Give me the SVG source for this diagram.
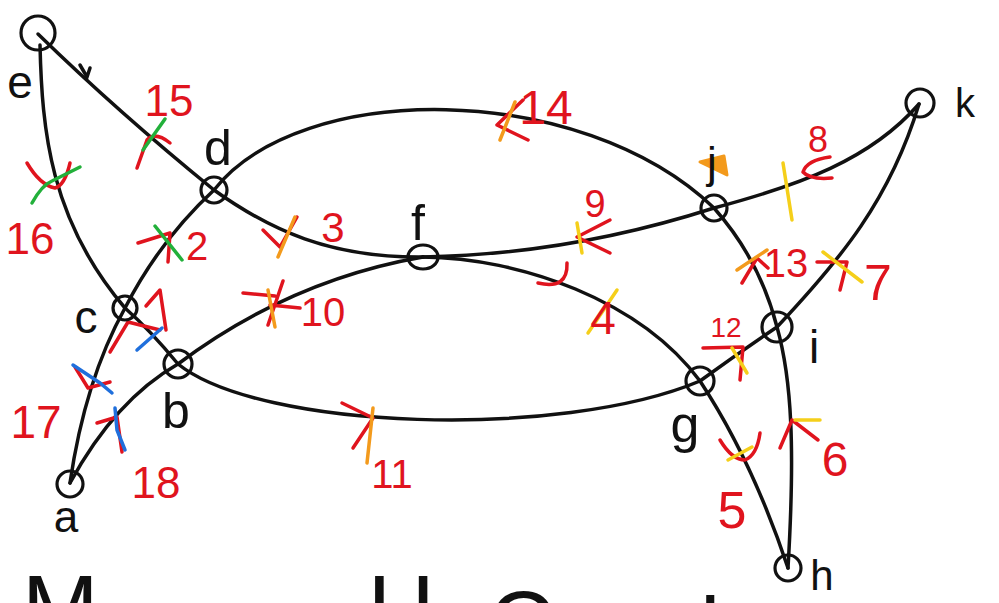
<svg xmlns="http://www.w3.org/2000/svg" width="999" height="603" viewBox="0 0 999 603">
<style>
.edge{fill:none;stroke:#111;stroke-width:3.5;stroke-linecap:round}
.node circle{fill:none;stroke:#111;stroke-width:3.2}
.nl{font-family:"Liberation Sans","DejaVu Sans",sans-serif;fill:#111;text-anchor:middle}
.num{font-family:"Liberation Sans","DejaVu Sans",sans-serif;fill:#e0141e;text-anchor:middle}
.r{fill:none;stroke:#e0141e;stroke-width:3.5;stroke-linecap:round;stroke-linejoin:round}
.gr{fill:none;stroke:#22b03a;stroke-width:3.5;stroke-linecap:round}
.bl{fill:none;stroke:#1f6fdc;stroke-width:3.5;stroke-linecap:round}
.or{fill:none;stroke:#f39a1c;stroke-width:3.5;stroke-linecap:round}
.ye{fill:none;stroke:#f5cf1a;stroke-width:3.5;stroke-linecap:round}
.bt{font-family:"Liberation Sans","DejaVu Sans",sans-serif;fill:#111;font-size:92px}
</style>
<rect width="999" height="603" fill="#fff"/>
<g id="connectors">
<path class="edge" d="M38,34 Q118,112 214,190"/>
<path class="edge" d="M80,65 L87,77 L90,68"/>
<path class="edge" d="M40,45 C42,130 50,220 125,308"/>
<path class="edge" d="M214,190 Q160,240 125,308"/>
<path class="edge" d="M125,308 Q85,380 70,483"/>
<path class="edge" d="M125,308 Q150,330 178,364"/>
<path class="edge" d="M70,483 Q115,400 178,364"/>
<path class="edge" d="M178,364 Q290,280 423,257"/>
<path class="edge" d="M178,364 C260,430 560,440 700,381"/>
<path class="edge" d="M214,190 C270,230 330,258 423,257"/>
<path class="edge" d="M423,257 C530,255 630,235 714,208"/>
<path class="edge" d="M714,208 C800,185 870,160 919,104"/>
<path class="edge" d="M214,190 C300,80 580,80 714,208"/>
<path class="edge" d="M714,208 Q760,260 777,327"/>
<path class="edge" d="M777,327 C792,380 795,450 788,568"/>
<path class="edge" d="M423,257 C520,258 640,300 700,381"/>
<path class="edge" d="M700,381 Q752,460 788,568"/>
<path class="edge" d="M700,381 Q740,352 777,327"/>
<path class="edge" d="M777,327 C840,260 890,200 919,104"/>
</g>
<g id="marks">
<path class="r" d="M137,168 L147,140 Q155,131 170,143"/><path class="gr" d="M143,150 L165,119"/>
<path class="r" d="M27,163 Q40,185 55,188 Q65,185 70,163"/><path class="gr" d="M32,203 Q42,185 52,181 L80,167"/>
<path class="r" d="M138,243 L170,233 L168,262"/><path class="gr" d="M155,226 L182,260"/>
<path class="r" d="M110,352 L128,322 L160,330"/><path class="bl" d="M137,350 L162,328"/>
<path class="r" d="M75,367 L88,388 L110,382"/><path class="bl" d="M73,365 L100,383 L112,393"/>
<path class="r" d="M97,423 L117,417 L122,452"/><path class="bl" d="M115,408 L117,430 L125,450"/>
<path class="r" d="M243,293 L275,296 M283,281 L268,325 M270,305 L300,308"/><path class="or" d="M268,290 L275,327"/>
<path class="r" d="M263,230 L280,247 L297,217"/><path class="or" d="M295,217 L278,257"/>
<path class="r" d="M523,100 L497,125 L528,140"/><path class="or" d="M515,102 L500,140"/>
<path class="r" d="M610,220 L577,237 L610,253"/><path class="ye" d="M577,223 L582,253"/>
<path class="r" d="M567,263 Q568,290 538,283"/><path class="ye" d="M617,290 L588,333"/>
<path class="r" d="M342,403 L373,418 L353,448"/><path class="or" d="M373,408 L367,463"/>
<path class="r" d="M703,348 L743,347 L740,380"/><path class="ye" d="M732,348 L747,373"/>
<path class="r" d="M742,283 L757,258 L768,268"/><path class="or" d="M737,270 L767,250"/>
<path class="r" d="M817,262 L847,262 L840,290"/><path class="ye" d="M823,252 L862,282"/>
<path class="r" d="M830,157 Q807,160 803,172 Q810,180 832,178"/><path class="ye" d="M783,163 L792,220"/>
<path class="r" d="M720,440 Q732,460 745,460 Q757,455 760,433"/><path class="ye" d="M728,460 L752,447"/>
<path class="r" d="M780,448 L792,420 L818,440"/><path class="ye" d="M795,420 L820,420"/>
<path d="M700,162 L724,156 L727,175 Z" fill="#f39a1c" stroke="#f39a1c" stroke-width="3" stroke-linejoin="round"/>
<text class="num" x="169" y="116" font-size="44">15</text>
<text class="num" x="30" y="254" font-size="44">16</text>
<text class="num" x="197" y="260" font-size="40">2</text>
<path class="r" d="M146,306 L160,290 L166,330"/>
<text class="num" x="36" y="438" font-size="46">17</text>
<text class="num" x="156" y="498" font-size="44">18</text>
<text class="num" x="323" y="326" font-size="40">10</text>
<text class="num" x="333" y="242" font-size="42">3</text>
<text class="num" x="546" y="124" font-size="48">14</text>
<text class="num" x="595" y="217" font-size="38">9</text>
<text class="num" x="603" y="334" font-size="46">4</text>
<text class="num" x="392" y="488" font-size="40">11</text>
<text class="num" x="726" y="337" font-size="28">12</text>
<text class="num" x="786" y="277" font-size="40">13</text>
<text class="num" x="878" y="300" font-size="50">7</text>
<text class="num" x="818" y="152" font-size="36">8</text>
<text class="num" x="732" y="528" font-size="52">5</text>
<text class="num" x="835" y="476" font-size="48">6</text>
</g>
<g id="node-e" class="node"><circle cx="38" cy="33" r="17"/><text class="nl" x="20" y="98" font-size="46">e</text></g>
<g id="node-d" class="node"><circle cx="214" cy="190" r="13"/><text class="nl" x="218" y="165" font-size="50">d</text></g>
<g id="node-c" class="node"><circle cx="125" cy="308" r="12"/><text class="nl" x="86" y="333" font-size="46">c</text></g>
<g id="node-b" class="node"><circle cx="178" cy="364" r="14"/><text class="nl" x="176" y="428" font-size="50">b</text></g>
<g id="node-a" class="node"><circle cx="70" cy="484" r="13"/><text class="nl" x="66" y="532" font-size="44">a</text></g>
<g id="node-f" class="node"><ellipse cx="423" cy="257" rx="15" ry="12" fill="none" stroke="#111" stroke-width="3.2"/><text class="nl" x="418" y="240" font-size="50">f</text></g>
<g id="node-j" class="node"><circle cx="714" cy="208" r="13"/><text class="nl" x="712" y="178" font-size="44">j</text></g>
<g id="node-k" class="node"><circle cx="920" cy="103" r="14"/><text class="nl" x="965" y="117" font-size="40">k</text></g>
<g id="node-i" class="node"><circle cx="777" cy="327" r="15"/><text class="nl" x="814" y="363" font-size="46">i</text></g>
<g id="node-g" class="node"><circle cx="700" cy="381" r="14"/><text class="nl" x="685" y="442" font-size="52">g</text></g>
<g id="node-h" class="node"><circle cx="788" cy="568" r="13"/><text class="nl" x="822" y="590" font-size="42">h</text></g>
<g id="caption">
<text class="bt" x="22" y="640">M</text>
<text class="bt" x="368" y="640">U</text>
<text class="bt" x="488" y="656">C</text>
<text class="bt" x="700" y="662">l</text>
</g>
</svg>
